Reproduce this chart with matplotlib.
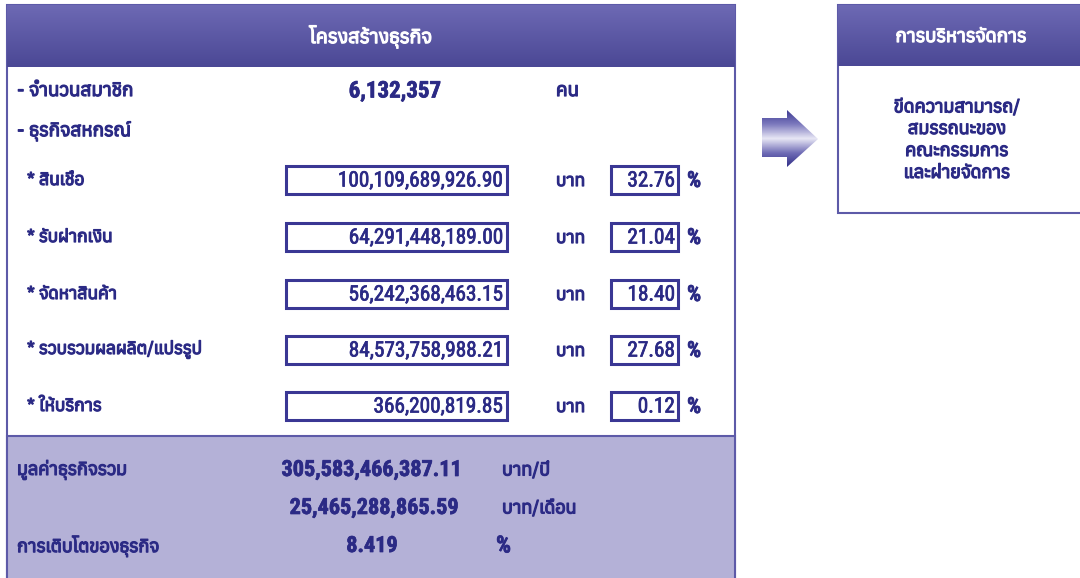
import numpy as np
import matplotlib
matplotlib.use("Agg")
import matplotlib.pyplot as plt
from matplotlib import font_manager as fm
from matplotlib.ft2font import FT2Font
from matplotlib.patches import Rectangle, Polygon
from matplotlib.colors import LinearSegmentedColormap
import matplotlib.patheffects as pe

# data
members = "6,132,357"
categories = ["* สินเชื่อ", "* รับฝากเงิน", "* จัดหาสินค้า", "* รวบรวมผลผลิต/แปรรูป", "* ให้บริการ"]
values = ["100,109,689,926.90", "64,291,448,189.00", "56,242,368,463.15", "84,573,758,988.21", "366,200,819.85"]
percents = ["32.76", "21.04", "18.40", "27.68", "0.12"]
total_year = "305,583,466,387.11"
total_month = "25,465,288,865.59"
growth = "8.419"
mgmt_lines = ["ขีดความสามารถ/", "สมรรถนะของ", "คณะกรรมการ", "และฝ่ายจัดการ"]

# find a font that has Thai glyphs
thai = []
for f in fm.fontManager.ttflist:
    try:
        if 0x0E01 in FT2Font(f.fname).get_charmap():
            thai.append(f.name)
    except Exception:
        pass
thai = sorted(set(thai))
names = set(f.name for f in fm.fontManager.ttflist)
narrow = [n for n in ["Liberation Sans Narrow", "Roboto Condensed", "Open Sans Condensed"] if n in names]
plt.rcParams["font.family"] = thai + ["DejaVu Sans"]
numfam = narrow + thai + ["DejaVu Sans"]

navy = "#2b2a85"
edge = "#5d5aa8"


def thicken(c, w=0.9):
    return [pe.withStroke(linewidth=w, foreground=c)]


def tlabel(x, y, s, size=13, c=navy, **kw):
    ax.text(x, y, s, color=c, fontsize=size, fontweight="bold", va="center",
            path_effects=thicken(c), zorder=kw.pop("zorder", 4), **kw)


def num(x, y, s, size=15.3, bold=False, **kw):
    ax.text(x, y, s, color=navy, fontsize=size, family=numfam,
            fontweight="bold" if bold else "normal", va="center", zorder=4,
            path_effects=thicken(navy, 0.5), **kw)


fig = plt.figure(figsize=(10.8, 5.78), dpi=100)
ax = fig.add_axes([0, 0, 1, 1])
ax.set_xlim(0, 1080)
ax.set_ylim(578, 0)
ax.axis("off")

grad = LinearSegmentedColormap.from_list("hdr", ["#6d69b4", "#4b4895"])
g = np.linspace(0, 1, 100).reshape(-1, 1)

# main panel
ax.add_patch(Rectangle((7, 5), 728, 580, fc="white", ec=edge, lw=1.5))
ax.imshow(g, cmap=grad, extent=(7, 735, 67, 5), aspect="auto", zorder=2)
ax.add_patch(Rectangle((7, 436), 728, 150, fc="#b4b1d7", ec=edge, lw=1.5, zorder=2))
tlabel(371, 37, "โครงสร้างธุรกิจ", size=14, c="white", ha="center")

tlabel(17, 91, "- จำนวนสมาชิก", size=13.5)
num(395, 91, members, size=16.5, bold=True, ha="center")
tlabel(556, 91, "คน", size=13.5)
tlabel(17, 131, "- ธุรกิจสหกรณ์", size=13.5)

row_y = [180, 237, 294, 350, 406]
for y, cat, val, pct in zip(row_y, categories, values, percents):
    tlabel(27, y, cat, size=12.5)
    ax.add_patch(Rectangle((286, y - 14), 221, 28, fc="white", ec="#3a3794", lw=2.2, zorder=3))
    num(503, y + 1, val, ha="right")
    tlabel(556, y + 1, "บาท", size=12.5)
    ax.add_patch(Rectangle((611, y - 14), 67, 28, fc="white", ec="#3a3794", lw=2.2, zorder=3))
    num(675, y + 1, pct, ha="right")
    num(687, y + 1, "%", size=16, bold=True)

# totals
tlabel(17, 470, "มูลค่าธุรกิจรวม", size=13)
num(462, 470, total_year, size=16, bold=True, ha="right")
tlabel(502, 470, "บาท/ปี", size=13)
num(459, 508, total_month, size=16, bold=True, ha="right")
tlabel(502, 508, "บาท/เดือน", size=13)
tlabel(17, 546, "การเติบโตของธุรกิจ", size=13)
num(372, 546, growth, size=16, bold=True, ha="center")
num(496, 546, "%", size=17, bold=True)

# arrow
arrow = Polygon([(762, 118), (787, 118), (787, 110), (818, 139), (787, 167),
                 (787, 157), (762, 157)], closed=True, fc="none", ec="none")
ax.add_patch(arrow)
acm = LinearSegmentedColormap.from_list("arr", ["#3a3790", "#7b78bd", "#e8e7f5", "#6e6bb5", "#2e2b85"])
im = ax.imshow(np.linspace(0, 1, 100).reshape(-1, 1), cmap=acm,
               extent=(760, 820, 168, 109), aspect="auto", zorder=2)
im.set_clip_path(arrow)

# right panel
ax.add_patch(Rectangle((838, 5), 250, 208, fc="white", ec=edge, lw=1.5))
ax.imshow(g, cmap=grad, extent=(838, 1088, 66, 5), aspect="auto", zorder=2)
tlabel(961, 37, "การบริหารจัดการ", size=13.5, c="white", ha="center")
for i, line in enumerate(mgmt_lines):
    tlabel(957, 107 + i * 22, line, size=13, ha="center")

ax.set_xlim(0, 1080)
ax.set_ylim(578, 0)
fig.savefig("out.png", dpi=100)
